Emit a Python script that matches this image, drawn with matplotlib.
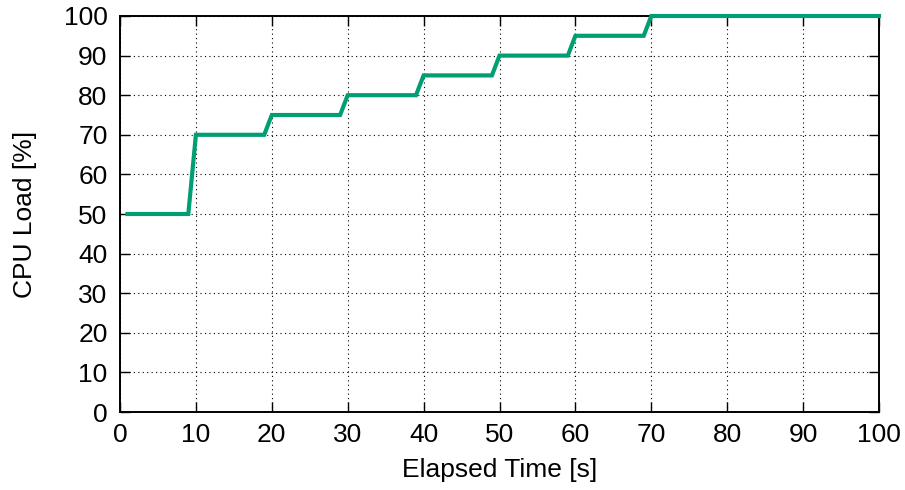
import matplotlib
matplotlib.use("Agg")
import matplotlib.pyplot as plt

# step points of the load ramp (seconds, percent)
elapsed = [1, 9, 10, 19, 20, 29, 30, 39, 40, 49, 50, 59, 60, 69, 70, 100]
load = [50, 50, 70, 70, 75, 75, 80, 80, 85, 85, 90, 90, 95, 95, 100, 100]

x_ticks = list(range(0, 101, 10))
y_ticks = list(range(0, 101, 10))

plt.rcParams["font.family"] = ["Liberation Sans", "DejaVu Sans"]
plt.rcParams["font.size"] = 19

fig = plt.figure(figsize=(9.05, 4.90), dpi=100)
ax = fig.add_axes([120 / 905, 1 - 412 / 490, 759 / 905, 396 / 490])

ax.plot(elapsed, load, color="#009e73", lw=3.0, solid_joinstyle="miter",
        clip_on=False, zorder=5)

ax.set_xlim(0, 100)
ax.set_ylim(0, 100)
ax.set_xticks(x_ticks)
ax.set_yticks(y_ticks)
ax.grid(True, color="black", linestyle=(0, (1, 3)), lw=0.8)
ax.tick_params(direction="in", length=7, width=1, top=True, right=True)
ax.tick_params(axis="x", pad=8)
ax.tick_params(axis="y", pad=9)
for s in ax.spines.values():
    s.set_linewidth(1.4)

ax.set_xlabel("Elapsed Time [s]", labelpad=8)
ax.set_ylabel("CPU Load [%]", labelpad=19)

fig.savefig("out.png", dpi=100)
